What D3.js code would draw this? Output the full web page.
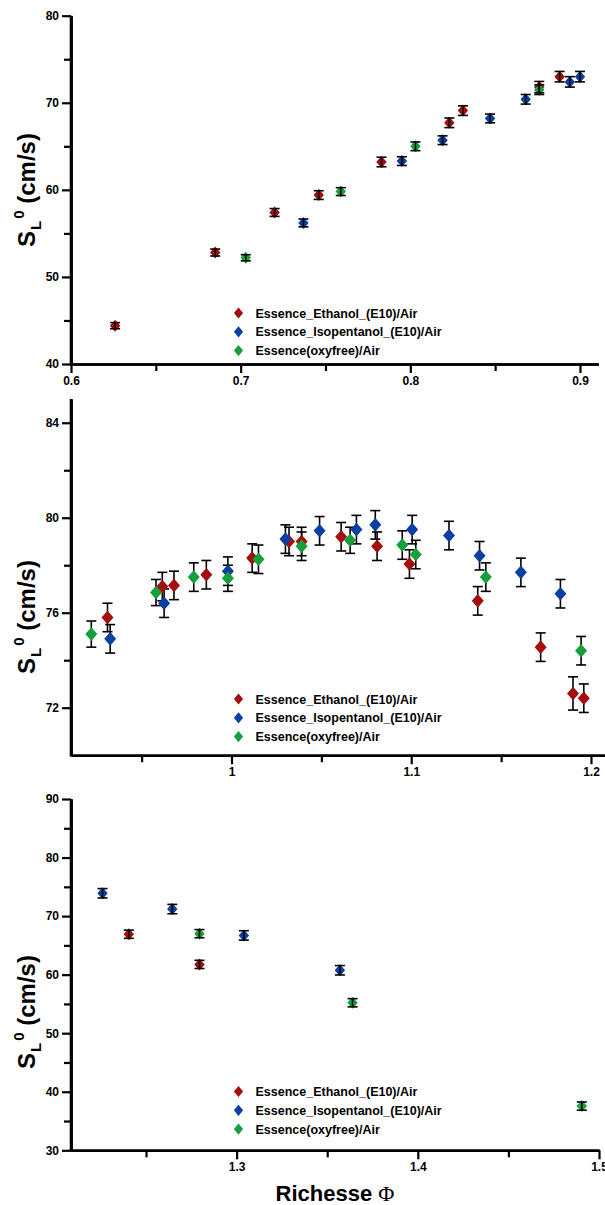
<!DOCTYPE html>
<html>
<head>
<meta charset="utf-8">
<script src="https://cdn.jsdelivr.net/npm/d3@7"></script>
<style>
  html, body { margin: 0; padding: 0; background: #fff; }
  svg { display: block; }
  text { font-family: "Liberation Sans", Arial, sans-serif; }
</style>
</head>
<body>
<svg id="chart" width="605" height="1205"></svg>
<script>
// ---------------- DATA ----------------
const seriesNames = ["Essence_Ethanol_(E10)/Air", "Essence_Isopentanol_(E10)/Air", "Essence(oxyfree)/Air"];
const seriesColors = ["#A30E0E", "#0C3FA2", "#15A03C"];

// Panel 1 (lean)
const p1EthanolPhi = [0.626, 0.685, 0.720, 0.746, 0.783, 0.823, 0.831, 0.876, 0.888];
const p1EthanolSL  = [44.4, 52.8, 57.4, 59.4, 63.2, 67.7, 69.1, 71.8, 73.0];
const p1EthanolErr = [0.35, 0.4, 0.45, 0.5, 0.55, 0.55, 0.55, 0.65, 0.6];
const p1IsoPhi = [0.737, 0.795, 0.819, 0.847, 0.868, 0.894, 0.900];
const p1IsoSL  = [56.2, 63.3, 65.7, 68.2, 70.4, 72.4, 73.0];
const p1IsoErr = [0.45, 0.5, 0.5, 0.5, 0.55, 0.6, 0.6];
const p1OxyPhi = [0.703, 0.759, 0.803, 0.876];
const p1OxySL  = [52.2, 59.8, 65.0, 71.5];
const p1OxyErr = [0.35, 0.45, 0.5, 0.55];

// Panel 2 (near stoichiometric)
const p2EthanolPhi = [0.931, 0.9615, 0.968, 0.986, 1.0115, 1.032, 1.039, 1.061, 1.081, 1.099, 1.137, 1.172, 1.190, 1.196];
const p2EthanolSL  = [75.8, 77.1, 77.15, 77.6, 78.3, 79.0, 79.0, 79.2, 78.8, 78.05, 76.5, 74.55, 72.6, 72.4];
const p2EthanolErr = [0.6, 0.6, 0.6, 0.6, 0.6, 0.6, 0.6, 0.6, 0.6, 0.6, 0.6, 0.6, 0.7, 0.6];
const p2IsoPhi = [0.9325, 0.9625, 0.998, 1.030, 1.049, 1.0695, 1.080, 1.1005, 1.121, 1.138, 1.161, 1.183];
const p2IsoSL  = [74.9, 76.4, 77.75, 79.1, 79.45, 79.5, 79.7, 79.5, 79.25, 78.4, 77.7, 76.8];
const p2IsoErr = [0.6, 0.6, 0.6, 0.6, 0.6, 0.6, 0.6, 0.6, 0.6, 0.6, 0.6, 0.6];
const p2OxyPhi = [0.922, 0.958, 0.979, 0.998, 1.015, 1.039, 1.066, 1.095, 1.1025, 1.1415, 1.1945];
const p2OxySL  = [75.1, 76.85, 77.5, 77.45, 78.25, 78.8, 79.05, 78.85, 78.45, 77.5, 74.4];
const p2OxyErr = [0.55, 0.55, 0.6, 0.55, 0.6, 0.6, 0.55, 0.6, 0.6, 0.6, 0.6];

// Panel 3 (rich)
const p3EthanolPhi = [1.2405, 1.2795];
const p3EthanolSL  = [66.9, 61.75];
const p3EthanolErr = [0.7, 0.7];
const p3IsoPhi = [1.226, 1.2645, 1.304, 1.357];
const p3IsoSL  = [73.9, 71.2, 66.7, 60.75];
const p3IsoErr = [0.8, 0.8, 0.8, 0.8];
const p3OxyPhi = [1.2795, 1.364, 1.4905];
const p3OxySL  = [67.0, 55.2, 37.55];
const p3OxyErr = [0.7, 0.7, 0.7];

// Ticks
const p1XMajor = [0.6, 0.7, 0.8, 0.9], p1XMinor = [0.65, 0.75, 0.85];
const p1YMajor = [40, 50, 60, 70, 80], p1YMinor = [45, 55, 65, 75];
const p2XMajor = [1.0, 1.1, 1.2], p2XMinor = [0.95, 1.05, 1.15];
const p2YMajor = [72, 76, 80, 84], p2YMinor = [74, 78, 82];
const p3XMajor = [1.3, 1.4, 1.5], p3XMinor = [1.25, 1.35, 1.45];
const p3YMajor = [30, 40, 50, 60, 70, 80, 90], p3YMinor = [35, 45, 55, 65, 75, 85];

const xTitle = "Richesse ";
const xTitleSym = "\u03A6";

// ---------------- DRAWING ----------------
const svg = d3.select("#chart");

function zip(phi, sl, err) { return phi.map((p, i) => ({ phi: p, sl: sl[i], err: err[i] })); }

const panels = [
  { xDom: [0.6, 0.9108], xRange: [71, 598.3], yDom: [40, 80], yRange: [364, 15.7],
    xMaj: p1XMajor, xMin: p1XMinor, yMaj: p1YMajor, yMin: p1YMinor,
    series: [zip(p1EthanolPhi, p1EthanolSL, p1EthanolErr), zip(p1IsoPhi, p1IsoSL, p1IsoErr), zip(p1OxyPhi, p1OxySL, p1OxyErr)],
    fmt: d3.format(".1f"), legendY: 313, titleY: 190, mw: 5.2, mh: 6, barsOnTop: true },
  { xDom: [0.9107, 1.2078], xRange: [71, 605], yDom: [70, 85], yRange: [755.2, 399],
    xMaj: p2XMajor, xMin: p2XMinor, yMaj: p2YMajor, yMin: p2YMinor,
    series: [zip(p2EthanolPhi, p2EthanolSL, p2EthanolErr), zip(p2IsoPhi, p2IsoSL, p2IsoErr), zip(p2OxyPhi, p2OxySL, p2OxyErr)],
    fmt: d => (d === 1 ? "1" : d3.format(".1f")(d)), legendY: 699, titleY: 617, mw: 6, mh: 6.8, barsOnTop: false },
  { xDom: [1.2086, 1.5], xRange: [71, 599], yDom: [30, 90], yRange: [1150.3, 799],
    xMaj: p3XMajor, xMin: p3XMinor, yMaj: p3YMajor, yMin: p3YMinor,
    series: [zip(p3EthanolPhi, p3EthanolSL, p3EthanolErr), zip(p3IsoPhi, p3IsoSL, p3IsoErr), zip(p3OxyPhi, p3OxySL, p3OxyErr)],
    fmt: d3.format(".1f"), legendY: 1091.5, titleY: 1012, mw: 5.2, mh: 6, barsOnTop: true }
];

function diamond(w, h) { return `M0,${-h}L${w},0L0,${h}L${-w},0Z`; }

panels.forEach(P => {
  const x = d3.scaleLinear().domain(P.xDom).range(P.xRange);
  const y = d3.scaleLinear().domain(P.yDom).range(P.yRange);
  const g = svg.append("g");
  const x0 = P.yRange[0];

  // Axes
  const xMinorAx = g.append("g").attr("transform", `translate(0,${x0})`)
    .call(d3.axisBottom(x).tickValues(P.xMin).tickSize(7).tickSizeOuter(0).tickFormat(""));
  const xMajorAx = g.append("g").attr("transform", `translate(0,${x0})`)
    .call(d3.axisBottom(x).tickValues(P.xMaj).tickSize(9).tickSizeOuter(0).tickFormat(P.fmt).tickPadding(3));
  const yMinorAx = g.append("g").attr("transform", `translate(${P.xRange[0]},0)`)
    .call(d3.axisLeft(y).tickValues(P.yMin).tickSize(7).tickSizeOuter(0).tickFormat(""));
  const yMajorAx = g.append("g").attr("transform", `translate(${P.xRange[0]},0)`)
    .call(d3.axisLeft(y).tickValues(P.yMaj).tickSize(9).tickSizeOuter(0).tickPadding(3));
  [xMinorAx, xMajorAx, yMinorAx, yMajorAx].forEach(a => {
    a.select(".domain").attr("stroke", "#000").attr("stroke-width", 2.6);
    a.selectAll(".tick line").attr("stroke", "#000").attr("stroke-width", 2.2);
    a.selectAll(".tick text").attr("fill", "#000").attr("font-size", 12).attr("font-weight", "bold")
      .attr("font-family", "'Liberation Sans', Arial, sans-serif");
  });
  g.append("line").attr("x1", P.xRange[0]).attr("x2", P.xRange[0])
    .attr("y1", P.yRange[0] + 1.3).attr("y2", P.yRange[1]).attr("stroke", "#000").attr("stroke-width", 2.6);

  // Data
  const drawBars = () => {
    P.series.forEach((s, si) => {
      const bg = g.append("g").attr("stroke", "#000").attr("stroke-width", 1.6).attr("fill", "none");
      s.forEach(d => {
        const cx = x(d.phi), yt = y(d.sl + d.err), yb = y(d.sl - d.err);
        bg.append("line").attr("x1", cx).attr("x2", cx).attr("y1", yt).attr("y2", yb);
        bg.append("line").attr("x1", cx - 5).attr("x2", cx + 5).attr("y1", yt).attr("y2", yt);
        bg.append("line").attr("x1", cx - 5).attr("x2", cx + 5).attr("y1", yb).attr("y2", yb);
      });
    });
  };
  const drawMarks = () => {
    P.series.forEach((s, si) => {
      g.append("g").selectAll("path").data(s).join("path")
        .attr("d", diamond(P.mw, P.mh))
        .attr("transform", d => `translate(${x(d.phi)},${y(d.sl)})`)
        .attr("fill", seriesColors[si]);
    });
  };
  if (P.barsOnTop) { drawMarks(); drawBars(); } else { drawBars(); drawMarks(); }

  // Legend
  const lg = g.append("g");
  seriesNames.forEach((name, i) => {
    const ly = P.legendY + i * 18.8;
    lg.append("path").attr("d", diamond(4.6, 5.6)).attr("transform", `translate(238.5,${ly})`).attr("fill", seriesColors[i]);
    lg.append("text").attr("x", 255.5).attr("y", ly).attr("dy", "0.36em")
      .attr("font-size", 12.5).attr("font-weight", "bold").attr("fill", "#000").text(name);
  });

  // Y title
  const t = g.append("text").attr("transform", `translate(35,${P.titleY}) rotate(-90)`)
    .attr("text-anchor", "middle").attr("font-size", 24).attr("font-weight", "bold").attr("fill", "#000");
  t.append("tspan").text("S");
  t.append("tspan").attr("font-size", 15).attr("dy", 6).attr("dx", 1).text("L");
  t.append("tspan").attr("font-size", 15).attr("dy", -17).attr("dx", 2).text("0");
  t.append("tspan").attr("dy", 11).text(" (cm/s)");
});

// X title
const xt = svg.append("text").attr("x", 335).attr("y", 1201).attr("text-anchor", "middle")
  .attr("font-size", 22).attr("font-weight", "bold").attr("fill", "#000");
xt.append("tspan").text(xTitle);
xt.append("tspan").attr("font-family", "'Liberation Serif', 'DejaVu Serif', serif").attr("font-weight", "normal").attr("font-size", 22).text(xTitleSym);
</script>
</body>
</html>
